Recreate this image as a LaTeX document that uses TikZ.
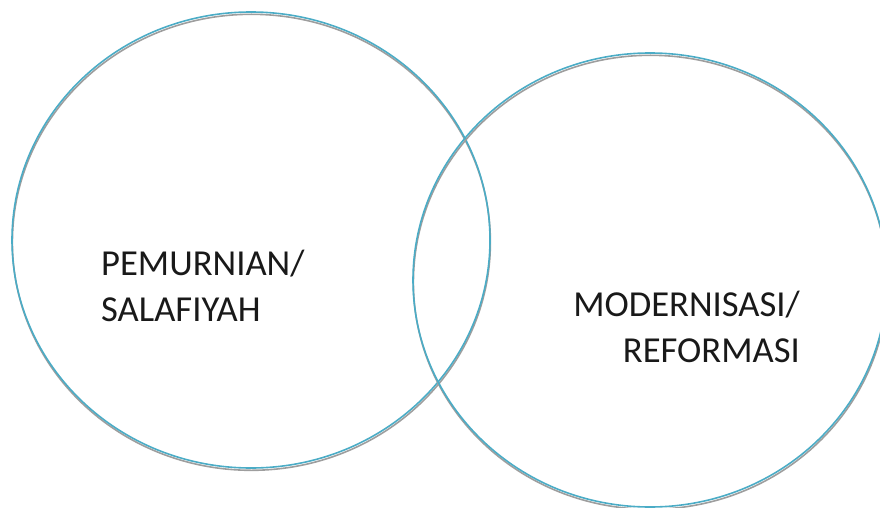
\documentclass[tikz,border=0pt]{standalone}
\usepackage{fontspec}
\setmainfont{Carlito}
\usetikzlibrary{positioning}
\definecolor{ringblue}{RGB}{75,172,198}

\begin{document}
\begin{tikzpicture}
	[
		x               = 1pt,
		y               = -1pt,
		ring/.style     = {draw=ringblue, line width=1.6pt},
		shade/.style    = {draw=black!38, line width=1.6pt},
		caption/.style  = {font=\fontsize{36.6}{45.5}\selectfont, inner sep=0pt, text=black!90}
	]
	\useasboundingbox (0,0) rectangle (880,508);
	% two overlapping rings, a grey shadow under each
	\draw [shade] (251.4,242.3) ellipse [x radius=239, y radius=228];
	\draw [ring]  (251,240)     ellipse [x radius=239, y radius=228];
	\draw [shade] (650.4,282.3) ellipse [x radius=237, y radius=227];
	\draw [ring]  (650,280)     ellipse [x radius=237, y radius=227];
	\node [caption, anchor=west, align=left]  (pemurnian)   at (101,286) {PEMURNIAN/\\SALAFIYAH};
	\node [caption, anchor=east, align=right] (modernisasi) at (800,327) {MODERNISASI/\\REFORMASI};
\end{tikzpicture}
\end{document}
